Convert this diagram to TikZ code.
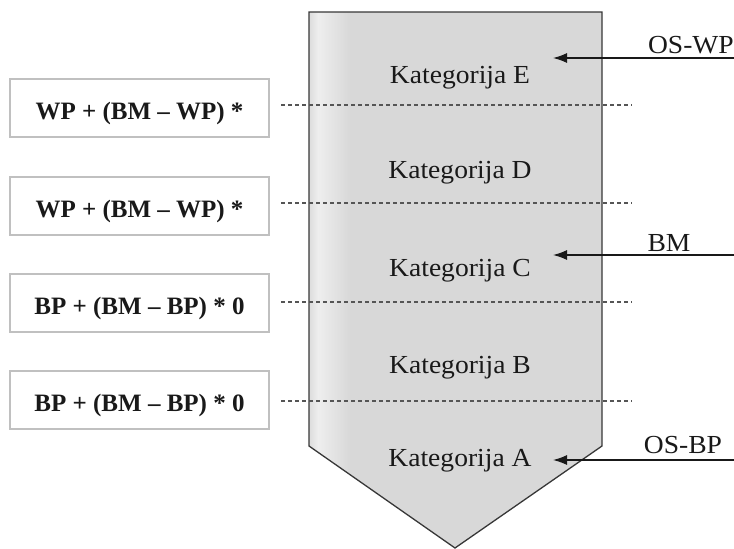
\documentclass[tikz,border=0pt]{standalone}
\usepackage{fontspec}
\setmainfont{Liberation Serif}
\newfontfamily\labelfont{Liberation Serif}[FakeStretch=1.06]
\usetikzlibrary{arrows.meta}

\definecolor{bodyfill}{RGB}{216,216,216}
\definecolor{bodyhi}{RGB}{238,238,238}
\definecolor{bodyedge}{RGB}{55,55,55}
\definecolor{boxedge}{RGB}{192,192,192}
\definecolor{dashc}{RGB}{85,85,85}
\definecolor{inkc}{RGB}{25,25,25}

\tikzset{
  formbox/.style={draw=boxedge, line width=2.2pt, fill=white,
    minimum width=259pt, minimum height=58pt, inner sep=0pt,
    text height=23pt, text depth=0pt,
    font=\fontsize{25}{28}\selectfont\bfseries, text=inkc},
  catlabel/.style={anchor=base, inner sep=0pt,
    font=\labelfont\fontsize{26}{30}\selectfont, text=inkc},
  sidelabel/.style={inner sep=0pt,
    font=\labelfont\fontsize{26}{30}\selectfont, text=inkc},
  divider/.style={draw=dashc, line width=1.1pt, dash pattern=on 4pt off 3pt},
  feed/.style={draw=inkc, line width=1.3pt,
    -{Latex[length=14pt,width=10pt]}},
}

\begin{document}
\begin{tikzpicture}[x=1pt,y=-1pt]
\useasboundingbox (0,0) rectangle (734,549);

% hopper-shaped body
\fill[bodyfill] (309,12) -- (602,12) -- (602,446) -- (455,548) -- (309,446) -- cycle;
\begin{scope}
  \clip (309,12) -- (602,12) -- (602,446) -- (455,548) -- (309,446) -- cycle;
  \shade[left color=bodyfill!90!white, right color=bodyhi] (309,12) rectangle (318,549);
  \shade[left color=bodyhi, right color=bodyfill] (318,12) rectangle (350,549);
\end{scope}
\draw[bodyedge, line width=1.3pt, line join=miter]
  (309,12) -- (602,12) -- (602,446) -- (455,548) -- (309,446) -- cycle;

% category boundaries
\coordinate (d1l) at (281,105); \coordinate (d1r) at (632,105);
\coordinate (d2l) at (281,203); \coordinate (d2r) at (632,203);
\coordinate (d3l) at (281,302); \coordinate (d3r) at (632,302);
\coordinate (d4l) at (281,401); \coordinate (d4r) at (632,401);
\draw[divider] (d1l) -- (d1r);
\draw[divider] (d2l) -- (d2r);
\draw[divider] (d3l) -- (d3r);
\draw[divider] (d4l) -- (d4r);

% category names
\node[catlabel] (katE) at (460,83) {Kategorija E};
\node[catlabel] (katD) at (460,178) {Kategorija D};
\node[catlabel] (katC) at (460,276) {Kategorija C};
\node[catlabel] (katB) at (460,373) {Kategorija B};
\node[catlabel] (katA) at (460,466) {Kategorija A};

% formula boxes
\node[formbox] (f1) at (139.5,108) {WP + (BM – WP) *};
\node[formbox] (f2) at (139.5,206) {WP + (BM – WP) *};
\node[formbox] (f3) at (139.5,303) {BP + (BM – BP) * 0};
\node[formbox] (f4) at (139.5,400) {BP + (BM – BP) * 0};

% incoming reference levels
\coordinate (wpin) at (734,58);  \coordinate (wptip) at (553,58);
\coordinate (bmin) at (734,255); \coordinate (bmtip) at (553,255);
\coordinate (bpin) at (734,460); \coordinate (bptip) at (553,460);
\draw[feed] (wpin) -- (wptip);
\draw[feed] (bmin) -- (bmtip);
\draw[feed] (bpin) -- (bptip);

\node[sidelabel, anchor=base east] (oswp) at (734,53) {OS-WP};
\node[sidelabel, anchor=base] (bm) at (669,251) {BM};
\node[sidelabel, anchor=base] (osbp) at (683,453) {OS-BP};
\end{tikzpicture}
\end{document}
